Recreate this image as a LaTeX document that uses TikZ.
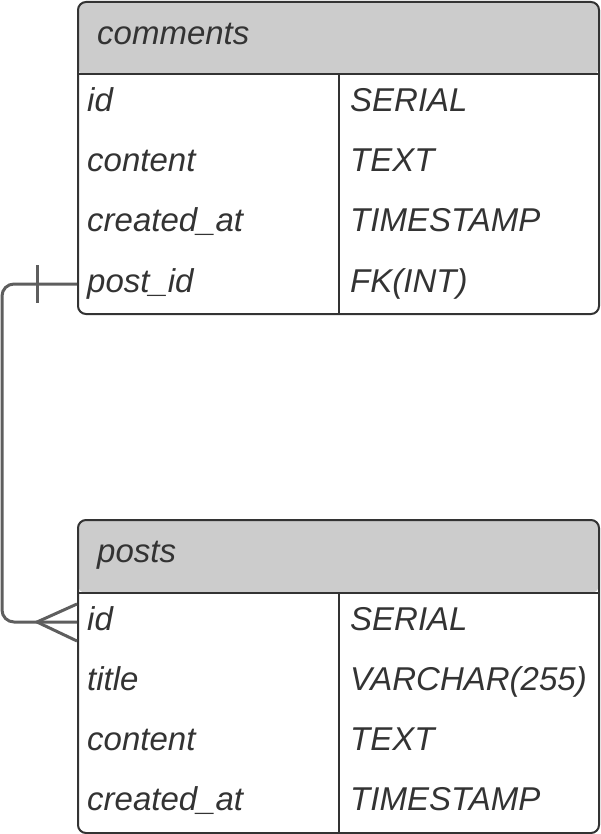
\documentclass[tikz,border=0pt]{standalone}
\usepackage{fontspec}
\setmainfont{Liberation Sans}
\usetikzlibrary{calc}
\definecolor{bordc}{HTML}{333333}
\definecolor{hdrc}{HTML}{CCCCCC}
\definecolor{connc}{HTML}{5E5E5E}
\definecolor{txtc}{HTML}{333333}
\newcommand\tblfont{\fontsize{33}{39}\selectfont\itshape}
\tikzset{
  tablebox/.style={draw=bordc, line width=2pt, rounded corners=8pt, anchor=north west, inner sep=0pt,
    minimum width=521pt, minimum height=#1,
    path picture={\fill[hdrc] (path picture bounding box.north west) rectangle ([yshift=-73pt]path picture bounding box.north east);}},
  rule/.style={draw=bordc, line width=2pt},
  lbl/.style={font=\tblfont, text=txtc, anchor=west, inner xsep=10pt, inner ysep=0pt, text height=24pt, text depth=8pt},
  hlbl/.style={lbl, inner xsep=20pt},
  vlbl/.style={lbl, inner xsep=11pt},
  conn/.style={draw=connc, line width=3pt},
}
\begin{document}
\begin{tikzpicture}[x=1pt,y=-1pt]
\useasboundingbox (0,0) rectangle (600,834);
% comments table
\node[tablebox=312pt] (comments) at (77,1) {};
\draw[rule] (77,74) -- (598,74);
\draw[rule] (339,74) -- (339,313);
\node[hlbl] (ch) at (77,37) {comments};
\node[lbl] (cid) at (77,104) {id};
\node[lbl] (ccontent) at (77,164) {content};
\node[lbl] (ccreated) at (77,224) {created\_at};
\node[lbl] (cpid) at (77,284) {post\_id};
\node[vlbl] (cidt) at (339,104) {SERIAL};
\node[vlbl] (ccontentt) at (339,164) {TEXT};
\node[vlbl] (ccreatedt) at (339,224) {TIMESTAMP};
\node[vlbl] (cpidt) at (339,284) {FK(INT)};
% posts table
\node[tablebox=313pt] (posts) at (77,519) {};
\draw[rule] (77,593) -- (598,593);
\draw[rule] (339,593) -- (339,832);
\node[hlbl] (ph) at (77,554) {posts};
\node[lbl] (pid) at (77,622) {id};
\node[lbl] (ptitle) at (77,682) {title};
\node[lbl] (pcontent) at (77,742) {content};
\node[lbl] (pcreated) at (77,802) {created\_at};
\node[vlbl] (pidt) at (339,622) {SERIAL};
\node[vlbl] (ptitlet) at (339,682) {VARCHAR(255)};
\node[vlbl] (pcontentt) at (339,742) {TEXT};
\node[vlbl] (pcreatedt) at (339,802) {TIMESTAMP};
% relationship connector
\draw[conn, rounded corners=12pt] (cpid.west) -- ++(-75,0) |- (pid.west);
\draw[conn] ($(cpid.west)+(-40,-19)$) -- ($(cpid.west)+(-40,19)$);
\draw[conn] ($(pid.west)+(0,-18)$) -- ($(pid.west)+(-40,0)$) -- ($(pid.west)+(0,19)$);
\end{tikzpicture}
\end{document}
